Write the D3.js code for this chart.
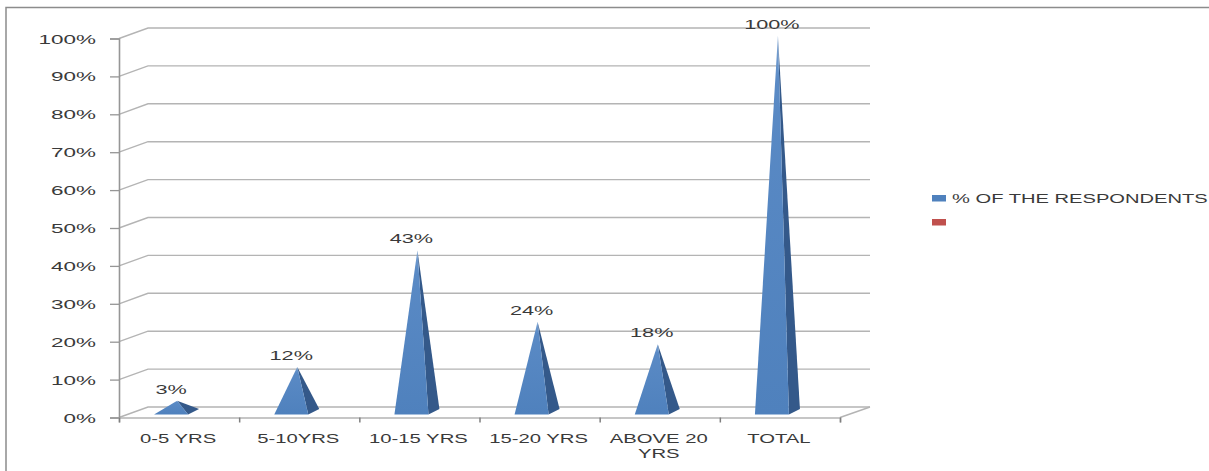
<!DOCTYPE html>
<html>
<head>
<meta charset="utf-8">
<script src="https://cdn.jsdelivr.net/npm/d3@7/dist/d3.min.js"></script>
<style>
  html, body { margin: 0; padding: 0; background: #fff; }
  svg { display: block; }
  text { font-family: "Liberation Sans", Arial, sans-serif; font-size: 13px; fill: #3a3a3a; }
</style>
</head>
<body>
<svg id="chart" width="1209" height="471"></svg>
<script>
// Work experience of the respondents, drawn as a 3-D pyramid column chart.
const categories = ["0-5 YRS", "5-10YRS", "10-15 YRS", "15-20 YRS", "ABOVE 20|YRS", "TOTAL"];
const respondents = [3, 12, 43, 24, 18, 100];
const percentTicks = [0, 10, 20, 30, 40, 50, 60, 70, 80, 90, 100];
const legendEntries = ["% OF THE RESPONDENTS", ""];
const legendColours = ["#4f81bd", "#c0504d"];

const svg = d3.select("#chart");
// Horizontal stretch of the wide lettering, per label group
const stretchTicks = 1.73;
const stretchCategories = 1.56;
const stretchValues = 1.67;
const stretchLegend = 1.55;
const depth = { dx: 29, dy: -10.5 };

const yFront = d3.scaleLinear().domain([0, 100]).range([417.5, 38.5]);
const yApex = d3.scaleLinear().domain([0, 100]).range([412, 36]);
const xBand = d3.scaleBand().domain(categories).range([119, 840]);
const xEdges = d3.scaleLinear().domain([0, categories.length]).range([119, 840]);

// Frame around the chart area (only top and left edges fall inside the view)
svg.append("path")
  .attr("d", d3.line()([[6, 471], [6, 7.5], [1209, 7.5]]))
  .attr("fill", "none").attr("stroke", "#8c8c8c").attr("stroke-width", 1.5);

// Back wall gridlines and their slanted returns on the side wall
const wall = svg.append("g").attr("fill", "none").attr("stroke", "#b4b4b4").attr("stroke-width", 1.4);
percentTicks.forEach(t => {
  const y = yFront(t);
  wall.append("path").attr("d", d3.line()([
    [119, y], [119 + depth.dx, y + depth.dy], [840 + depth.dx + 1, y + depth.dy]
  ]));
});
// Right-hand floor edge
wall.append("path").attr("d", d3.line()([
  [840, yFront(0)], [840 + depth.dx + 1, yFront(0) + depth.dy]
]));

// Value axis
const yAxis = svg.append("g").attr("transform", "translate(119,0)")
  .call(d3.axisLeft(yFront).tickValues(percentTicks).tickSize(9).tickPadding(0)
    .tickFormat(d => d + "%"));
yAxis.select(".domain").attr("stroke", "#969696").attr("stroke-width", 1.6);
yAxis.selectAll(".tick line").attr("stroke", "#969696").attr("stroke-width", 1.3);
yAxis.selectAll(".tick text")
  .attr("x", 0).attr("dy", "0.35em")
  .attr("text-anchor", "end")
  .attr("transform", `translate(-23,0) scale(${stretchTicks},1)`);
yAxis.attr("font-family", null).attr("font-size", null);

// Category axis: ticks sit on the edges of each category slot
const xAxis = svg.append("g").attr("transform", `translate(0,${yFront(0)})`)
  .call(d3.axisBottom(xEdges).ticks(categories.length).tickSize(5).tickFormat(""));
xAxis.select(".domain").attr("stroke", "#b4b4b4").attr("stroke-width", 1.6);
xAxis.selectAll(".tick line").attr("stroke", "#7f7f7f").attr("stroke-width", 1.5);

// Category labels, wrapped on the | separator
categories.forEach(c => {
  const cx = xBand(c) + xBand.bandwidth() / 2 - 1;
  c.split("|").forEach((line, i) => {
    svg.append("text")
      .attr("transform", `translate(${cx},${442.5 + i * 15}) scale(${stretchCategories},1)`)
      .attr("text-anchor", "middle")
      .text(line);
  });
});

// Shading of the pyramid faces
const defs = svg.append("defs");
const frontGrad = defs.append("linearGradient").attr("id", "frontFace")
  .attr("x1", 0).attr("x2", 0).attr("y1", 0).attr("y2", 1);
frontGrad.append("stop").attr("offset", 0).attr("stop-color", "#7fa6d4");
frontGrad.append("stop").attr("offset", 0.12).attr("stop-color", "#5a8ac5");
frontGrad.append("stop").attr("offset", 1).attr("stop-color", "#4f81bd");

// Pyramids: square base on the floor, apex at the value height
const pyramids = svg.append("g").selectAll("g")
  .data(categories.map((c, i) => ({ c, v: respondents[i] })))
  .join("g");

const baseY = 414.5;
const apexOf = d => [xBand(d.c) + xBand.bandwidth() / 2 - 2, yApex(d.v)];
const cornersOf = d => {
  const cx = xBand(d.c) + xBand.bandwidth() / 2;
  return { left: [cx - 25, baseY], right: [cx + 9, baseY], back: [cx + 20, baseY - 5.5] };
};

pyramids.append("path")
  .attr("fill", "#34598a")
  .attr("d", d => {
    const k = cornersOf(d);
    return d3.line()([apexOf(d), k.right, k.back]) + "Z";
  });
pyramids.append("path")
  .attr("fill", "url(#frontFace)")
  .attr("d", d => {
    const k = cornersOf(d);
    return d3.line()([apexOf(d), k.left, k.right]) + "Z";
  });

// Value labels above each apex
pyramids.append("text")
  .attr("text-anchor", "middle")
  .attr("transform", d => {
    const a = apexOf(d);
    return `translate(${a[0] - 6},${a[1] - 7}) scale(${stretchValues},1)`;
  })
  .text(d => d.v + "%");

// Legend
const legend = svg.append("g").selectAll("g")
  .data(legendEntries)
  .join("g")
  .attr("transform", (d, i) => `translate(932,${195 + i * 24})`);
legend.append("rect")
  .attr("width", 14).attr("height", 6.5)
  .attr("fill", (d, i) => legendColours[i]);
legend.append("text")
  .attr("transform", `translate(20,8) scale(${stretchLegend},1)`)
  .text(d => d);
</script>
</body>
</html>
